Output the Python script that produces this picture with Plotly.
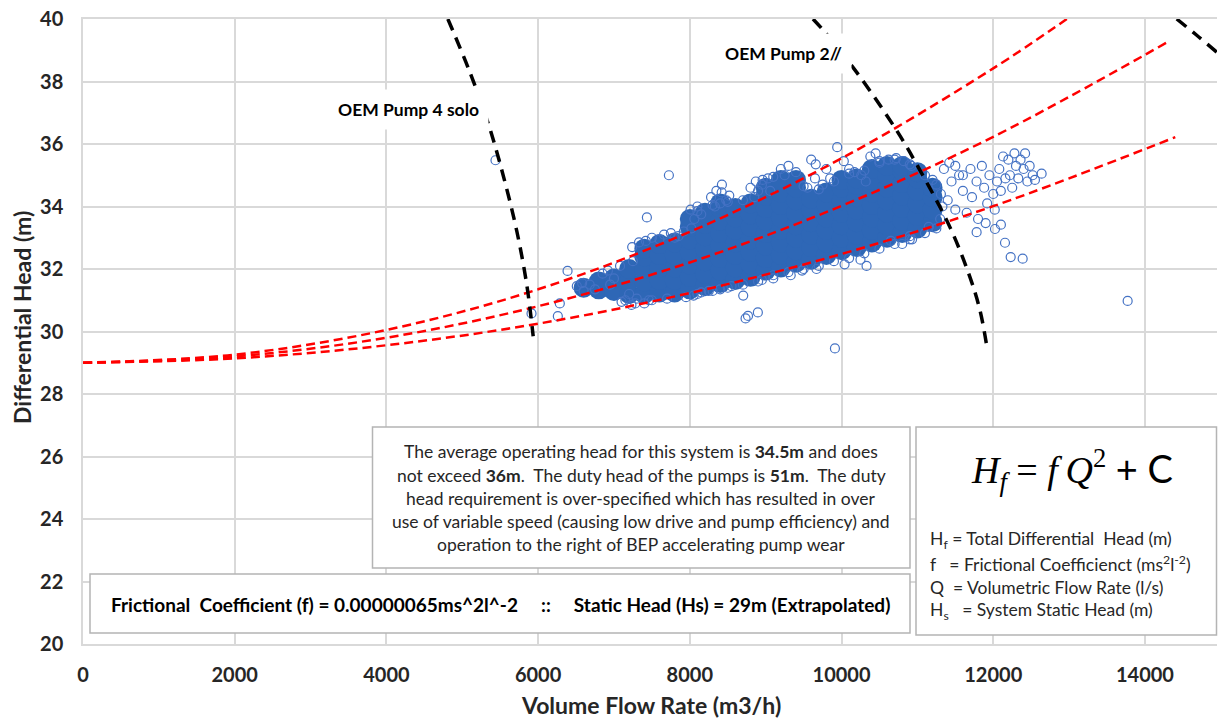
import plotly.graph_objects as go

# ---------------- data ----------------
# System curves (H = f*Q^2 + 29)
sys_hi_q = [0, 2000, 4000, 6000, 8000, 10000, 12000, 12970]
sys_hi_h = [29.0, 29.26, 30.05, 31.35, 33.19, 35.54, 38.42, 40.0]
sys_mid_q = [0, 2000, 4000, 6000, 8000, 10000, 12000, 14290]
sys_mid_h = [29.0, 29.2, 29.8, 30.81, 32.21, 34.02, 36.23, 39.25]
sys_lo_q = [0, 2000, 4000, 6000, 8000, 10000, 12000, 14400]
sys_lo_h = [29.0, 29.14, 29.56, 30.25, 31.23, 32.48, 34.01, 36.22]

# OEM pump curves (black dashed)
pump4_q = [4810, 5100, 5350, 5550, 5720, 5850, 5935]
pump4_h = [40.0, 38.3, 36.6, 34.9, 33.2, 31.5, 29.85]
pump2_q = [9624, 9780, 10198, 10725, 11011, 11429, 11693, 11825, 11913]
pump2_h = [40.0, 39.58, 38.3, 36.44, 35.26, 33.34, 31.74, 30.68, 29.56]
pump3_q = [14419, 14683, 14946]
pump3_h = [40.0, 39.48, 38.94]

# Dense core of the operating-point cloud: flow -> heads
core_columns = {
    6600: [31.4],
    6800: [31.35, 31.6],
    7000: [31.3, 31.7],
    7200: [31.2, 31.6, 32.0],
    7400: [31.2, 31.6, 32.0, 32.4, 32.65],
    7600: [31.25, 31.65, 32.05, 32.45, 32.8],
    7800: [31.25, 31.65, 32.05, 32.45, 32.85],
    8000: [31.35, 31.75, 32.15, 32.55, 32.95, 33.35, 33.6],
    8200: [31.45, 31.85, 32.25, 32.65, 33.05, 33.45, 33.8],
    8400: [31.55, 31.95, 32.35, 32.75, 33.15, 33.55, 33.95, 34.1],
    8600: [31.65, 32.05, 32.45, 32.85, 33.25, 33.65, 33.95],
    8800: [31.75, 32.15, 32.55, 32.95, 33.35, 33.75, 34.1],
    9000: [31.95, 32.35, 32.75, 33.15, 33.55, 33.95, 34.35, 34.6],
    9200: [32.05, 32.45, 32.85, 33.25, 33.65, 34.05, 34.45, 34.85],
    9400: [32.2, 32.6, 33.0, 33.4, 33.8, 34.2, 34.6, 34.85],
    9600: [32.3, 32.7, 33.1, 33.5, 33.9, 34.25],
    9800: [32.45, 32.85, 33.25, 33.65, 34.05, 34.45],
    10000: [32.6, 33.0, 33.4, 33.8, 34.2, 34.6, 34.85],
    10200: [32.7, 33.1, 33.5, 33.9, 34.3, 34.7, 34.9],
    10400: [32.85, 33.25, 33.65, 34.05, 34.45, 34.85, 35.2],
    10600: [33.0, 33.4, 33.8, 34.2, 34.6, 35.0, 35.3],
    10800: [33.15, 33.55, 33.95, 34.35, 34.75, 35.15, 35.3],
    11000: [33.3, 33.7, 34.1, 34.5, 34.9, 35.1],
    11200: [33.5, 33.9, 34.3, 34.6],
}

# Individual operating points around the edges of the cloud
edge_points = [
    (8280, 34.3), (8350, 34.5), (8420, 34.45), (8480, 34.2), (8400, 34.1), (8330, 34.0), (8520, 34.35),
    (8010, 33.9), (8060, 33.6), (8150, 33.75), (8020, 33.3), (8100, 34.0),
    (8800, 34.6), (8870, 34.8), (8950, 34.7), (9030, 34.9), (8850, 34.3),
    (6510, 31.45), (6600, 31.3), (6680, 31.5), (6750, 31.35), (6580, 31.55),
    (6850, 31.85), (6920, 31.95), (7000, 31.7), (6950, 31.5),
    (7080, 32.1), (7150, 31.0), (7200, 31.2), (7250, 32.25), (7100, 30.95), (7280, 30.9),
    (7240, 32.7), (7330, 32.85), (7420, 32.9), (7500, 33.0),
    (7660, 33.1), (7750, 33.15), (7850, 33.05), (7920, 33.2),
    (7230, 30.85), (7300, 31.05), (7400, 30.9), (7460, 31.0),
    (7500, 31.0), (7700, 31.05), (7600, 32.95), (7800, 33.0),
    (7950, 31.1), (8050, 31.15), (8150, 31.25), (8250, 31.3),
    (8400, 31.35), (8550, 31.45),
    (8960, 34.85), (9060, 34.5),
    (9200, 35.2), (9300, 35.3), (9400, 35.1), (9250, 35.0),
    (9600, 35.5), (9660, 35.35),
    (10030, 35.45), (10100, 35.2), (10170, 35.1), (10260, 35.0), (10320, 34.8),
    (10380, 35.6), (10450, 35.7), (10500, 35.45),
    (10620, 35.5), (10720, 35.55), (10820, 35.45), (10920, 35.3),
    (8950, 31.65), (9100, 31.8), (9330, 31.8), (9480, 31.95), (9670, 32.0),
    (10040, 32.15), (10250, 32.3), (10330, 32.1),
    (10650, 32.9), (10800, 32.8), (10900, 33.05), (10930, 32.95),
    (11150, 33.35), (11250, 33.3), (11300, 33.6), (11330, 34.0), (11310, 34.4), (11250, 34.7),
    (8100, 33.85), (8300, 34.05), (8500, 34.15), (8700, 34.2), (8900, 34.5), (9100, 34.95),
    (9500, 34.65), (9700, 34.55), (9900, 34.8), (10100, 35.05), (10300, 35.15), (10500, 35.4),
    (10700, 35.5), (10900, 35.35), (11100, 35.0), (11200, 34.85),
    (8100, 31.2), (8300, 31.3), (8500, 31.4), (8700, 31.5), (8900, 31.6), (9100, 31.7),
    (9300, 31.9), (9500, 32.0), (9700, 32.1), (9900, 32.25), (10100, 32.35), (10300, 32.5),
    (10500, 32.65), (10700, 32.8), (10900, 32.95), (11100, 33.15),
    (9550, 34.6), (9650, 34.9), (9750, 34.7), (9850, 34.9), (9800, 35.2),
    (11350, 35.2), (11420, 35.4), (11500, 35.3), (11600, 35.0),
    (11400, 34.2), (11450, 34.8), (11500, 33.9), (11550, 35.0), (11600, 34.5), (11650, 33.8),
    (11700, 35.2), (11720, 34.3), (11780, 34.8), (11800, 33.6), (11850, 35.3), (11880, 34.6),
    (11920, 34.1), (11950, 35.0), (12000, 34.4), (12020, 33.9), (12050, 34.8), (12080, 35.2),
    (12100, 34.5), (12130, 35.6), (12160, 34.9), (12200, 35.5), (12220, 35.0), (12250, 34.6),
    (12280, 35.7), (12300, 35.3), (12330, 34.9), (12360, 35.5), (12400, 35.2), (12420, 35.7),
    (12450, 34.8), (12480, 35.3), (12520, 35.0), (12550, 34.85),
]

# Isolated outliers
outlier_points = [
    (5438, 35.48), (7724, 35.0), (7434, 33.65), (8423, 34.7), (5913, 30.58), (6260, 30.49),
    (6286, 30.9), (6388, 31.94), (8704, 31.15), (8735, 30.42), (8897, 30.61), (8767, 30.5),
    (9913, 29.46), (13772, 30.98), (11900, 33.47), (11781, 33.18), (12023, 33.28),
    (12101, 33.42), (12155, 32.84), (12230, 32.38), (12388, 32.33), (12638, 35.05), (9943, 35.9),
]

x_ticks = [0, 2000, 4000, 6000, 8000, 10000, 12000, 14000]
y_ticks = [20, 22, 24, 26, 28, 30, 32, 34, 36, 38, 40]

# ---------------- figure ----------------
W, H = 1218, 719
X0, X1, YB, YT = 83, 1217, 644, 19


def px(x):
    return (x - X0) / (X1 - X0)


def py(y):
    return (YB - y) / (YB - YT)


core_q = [q for q, hs in core_columns.items() for _ in hs]
core_h = [h for hs in core_columns.values() for h in hs]
open_q = [p[0] for p in edge_points + outlier_points]
open_h = [p[1] for p in edge_points + outlier_points]

fig = go.Figure()
fig.add_trace(go.Scatter(x=core_q, y=core_h, mode="markers",
                         marker=dict(symbol="circle", size=20, color="#2E67B6",
                                     line=dict(width=0)), hoverinfo="skip"))
fig.add_trace(go.Scatter(x=open_q, y=open_h, mode="markers",
                         marker=dict(symbol="circle-open", size=9, color="#4472C4",
                                     line=dict(width=1.2, color="#4472C4")), hoverinfo="skip"))

red = dict(color="#FF0000", width=2.5, dash="9px,5px", shape="spline")
for q, h in [(sys_hi_q, sys_hi_h), (sys_mid_q, sys_mid_h), (sys_lo_q, sys_lo_h)]:
    fig.add_trace(go.Scatter(x=q, y=h, mode="lines", line=red, hoverinfo="skip"))

blk = dict(color="#000000", width=3.5, dash="12px,8px", shape="spline")
for q, h in [(pump4_q, pump4_h), (pump2_q, pump2_h), (pump3_q, pump3_h)]:
    fig.add_trace(go.Scatter(x=q, y=h, mode="lines", line=blk, hoverinfo="skip"))

FONT = "Lato, 'Open Sans', sans-serif"
TXT = "#262626"
GRID = "#D9D9D9"

shapes = []
for (x0, x1, y0, y1) in [(372.5, 910, 427, 568), (90, 910, 574, 633), (916, 1216.5, 427, 635)]:
    shapes.append(dict(type="rect", xref="paper", yref="paper", layer="above",
                       x0=px(x0), x1=px(x1), y0=py(y1), y1=py(y0),
                       fillcolor="white", line=dict(color="#B4B4B4", width=1.5)))

ann = []


def add_text(x, y, text, size, color=TXT, xanchor="center", **kw):
    ann.append(dict(xref="paper", yref="paper", x=px(x), y=py(y), text=text,
                    showarrow=False, xanchor=xanchor, yanchor="middle",
                    font=dict(family=kw.pop("family", FONT), size=size, color=color), **kw))


# Pump labels with white background
add_text(408, 110, "<b>OEM Pump 4 solo</b>", 17.5, "#000000", bgcolor="white", borderpad=9)
add_text(783, 53, "<b>OEM Pump 2//</b>", 17.5, "#000000", bgcolor="white", borderpad=9)

# Big note box
note_lines = [
    "The average operating head for this system is <b>34.5m</b> and does",
    "not exceed <b>36m</b>.\u00a0 The duty head of the pumps is <b>51m</b>.\u00a0 The duty",
    "head requirement is over-specified which has resulted in over",
    "use of variable speed (causing low drive and pump efficiency) and",
    "operation to the right of BEP accelerating pump wear",
]
for i, t in enumerate(note_lines):
    add_text(641, 451.7 + i * 23.3, t, 17.5)

# Frictional coefficient box
add_text(500, 604,
         "<b>Frictional\u00a0 Coefficient (f) = 0.00000065ms^2l^-2\u00a0\u00a0\u00a0\u00a0 ::"
         "\u00a0\u00a0\u00a0\u00a0 Static Head (Hs) = 29m (Extrapolated)</b>", 19, "#000000")

# Formula box
add_text(1072, 470,
         "<i>H<sub>f</sub></i> = <i>f\u2009Q</i><sup>2</sup> "
         "<span style=\"font-family:Lato\">+ C</span>",
         38, "#000000", family="'Liberation Serif', serif")
legend_lines = [
    "H<sub>f</sub> = Total Differential\u00a0 Head (m)",
    "f\u00a0\u00a0 = Frictional Coefficienct (ms<sup>2</sup>l<sup>-2</sup>)",
    "Q\u00a0 = Volumetric Flow Rate (l/s)",
    "H<sub>s</sub>\u00a0\u00a0 = System Static Head (m)",
]
for i, t in enumerate(legend_lines):
    add_text(928, 540 + i * 23.6, t, 17.5, xanchor="left")

# Axis titles
add_text(651, 705, "<b>Volume Flow Rate (m3/h)</b>", 23)
add_text(22, 318, "<b>Differential Head (m)</b>", 23, textangle=-90)

fig.update_layout(
    width=W, height=H,
    margin=dict(l=X0, r=W - X1, t=YT, b=H - YB),
    paper_bgcolor="white", plot_bgcolor="white",
    showlegend=False, hovermode=False,
    shapes=shapes, annotations=ann,
    font=dict(family=FONT, color=TXT),
)
fig.update_xaxes(range=[0, 14950], tickvals=x_ticks, ticktext=[str(v) for v in x_ticks],
                 showgrid=True, gridcolor=GRID, gridwidth=1.5, zeroline=False,
                 showline=True, linecolor=GRID, linewidth=1.5, mirror=True,
                 ticks="", ticklabelstandoff=12,
                 tickfont=dict(family=FONT, size=20, color=TXT, weight="bold"))
fig.update_yaxes(range=[20, 40], tickvals=y_ticks, ticktext=[str(v) for v in y_ticks],
                 showgrid=True, gridcolor=GRID, gridwidth=1.5, zeroline=False,
                 showline=True, linecolor=GRID, linewidth=1.5,
                 ticks="", ticklabelstandoff=14,
                 tickfont=dict(family=FONT, size=20, color=TXT, weight="bold"))

fig.write_html("out.html", config={"displayModeBar": False},
               post_script="document.body.style.margin='0px';")
